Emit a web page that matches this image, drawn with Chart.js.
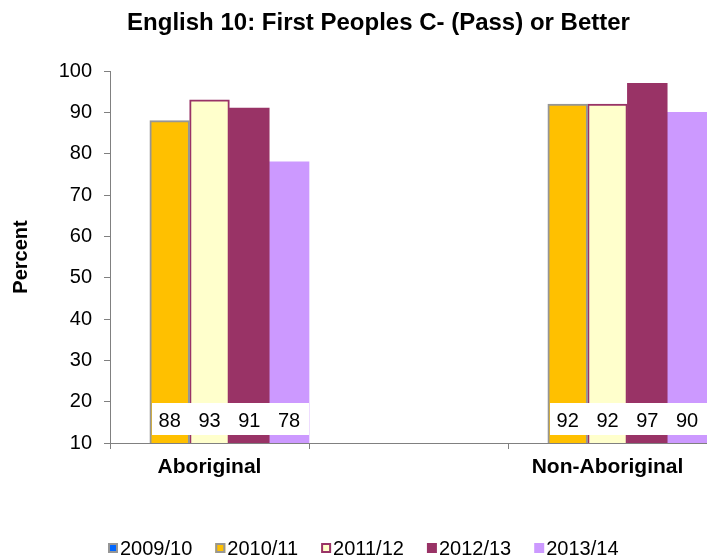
<!DOCTYPE html>
<html>
<head>
<meta charset="utf-8">
<title>English 10: First Peoples</title>
<script src="https://cdn.jsdelivr.net/npm/chart.js@4.4.1/dist/chart.umd.min.js"></script>
<style>
  html, body { margin: 0; padding: 0; background: #fff; }
  #wrap { width: 707px; height: 557px; }
</style>
</head>
<body>
<div id="wrap"><canvas id="chart"></canvas></div>
<script>
// groups on the x axis (middle slot is left empty as a spacer)
const categories = ['Aboriginal', '', 'Non-Aboriginal'];
const years = ['2009/10', '2010/11', '2011/12', '2012/13', '2013/14'];

// percent with C- or better, per school year
const pct0910 = [null, null, null];
const pct1011 = [88, null, 92];
const pct1112 = [93, null, 92];
const pct1213 = [91, null, 97];
const pct1314 = [78, null, 90];

const yMin = 10;
const yMax = 100;
const yStep = 10;

const titleText = 'English 10: First Peoples C- (Pass) or Better';

const fills = ['#0066FF', '#FFC000', '#FFFFCC', '#993366', '#CC99FF'];
const edges = ['#969696', '#969696', '#993366', '#993366', '#CC99FF'];
const edgeWidths = [2, 2, 2, 0, 0];

const FONT = '"Liberation Sans", Arial, Helvetica, sans-serif';
Chart.defaults.font.family = FONT;
Chart.defaults.color = '#000';

const series = [pct0910, pct1011, pct1112, pct1213, pct1314];

// heading, sits a little right of the canvas centre
const heading = {
  id: 'heading',
  afterDraw(chart) {
    const ctx = chart.ctx;
    ctx.save();
    ctx.font = 'bold 24px ' + FONT;
    ctx.fillStyle = '#000';
    ctx.textAlign = 'center';
    ctx.textBaseline = 'middle';
    ctx.fillText(titleText, chart.width / 2 + 25, 23);
    ctx.restore();
  }
};

// one white strip per group near the bar bases, with each bar's value on it
const valueBoxes = {
  id: 'valueBoxes',
  afterDatasetsDraw(chart) {
    const ctx = chart.ctx;
    const floor = chart.scales.y.getPixelForValue(yMin);
    const labels = [];
    const strips = categories.map(() => ({ left: Infinity, right: -Infinity }));
    chart.data.datasets.forEach((ds, i) => {
      chart.getDatasetMeta(i).data.forEach((bar, j) => {
        const v = ds.data[j];
        if (v == null) return;
        strips[j].left = Math.min(strips[j].left, bar.x - bar.width / 2);
        strips[j].right = Math.max(strips[j].right, bar.x + bar.width / 2);
        labels.push({ x: bar.x, text: String(v) });
      });
    });
    ctx.save();
    ctx.fillStyle = '#fff';
    strips.forEach((s) => {
      if (s.left === Infinity) return;
      const l = Math.round(s.left) + 2;
      ctx.fillRect(l, Math.round(floor) - 40, Math.round(s.right) - l, 32);
    });
    ctx.font = '20px ' + FONT;
    ctx.textAlign = 'center';
    ctx.textBaseline = 'middle';
    ctx.fillStyle = '#000';
    labels.forEach((lb) => ctx.fillText(lb.text, lb.x, floor - 22));
    ctx.restore();
  }
};

// legend row along the bottom
const bottomLegend = {
  id: 'bottomLegend',
  afterDraw(chart) {
    const ctx = chart.ctx;
    ctx.save();
    ctx.font = '20px ' + FONT;
    ctx.textBaseline = 'middle';
    ctx.textAlign = 'left';
    const y = 548;
    let x = chart.chartArea.left - 2;
    chart.data.datasets.forEach((ds) => {
      const box = 10;
      ctx.fillStyle = ds.backgroundColor;
      ctx.fillRect(x, y - box / 2, box, box);
      if (ds.borderWidth > 0) {
        ctx.strokeStyle = ds.borderColor;
        ctx.lineWidth = 2;
        ctx.strokeRect(x + 1, y - box / 2 + 1, box - 2, box - 2);
      }
      ctx.fillStyle = '#000';
      ctx.fillText(ds.label, x + box + 2, y + 1);
      x += box + 2 + ctx.measureText(ds.label).width + 23;
    });
    ctx.restore();
  }
};

new Chart(document.getElementById('chart'), {
  type: 'bar',
  data: {
    labels: categories,
    datasets: years.map((yr, i) => ({
      label: yr,
      data: series[i],
      backgroundColor: fills[i],
      borderColor: edges[i],
      borderWidth: edgeWidths[i],
      borderSkipped: false,
      categoryPercentage: 1.0,
      barPercentage: 1.0
    }))
  },
  options: {
    responsive: true,
    maintainAspectRatio: false,
    animation: false,
    layout: { padding: { left: 0, right: 0, top: 71, bottom: 0 } },
    plugins: {
      legend: { display: false },
      tooltip: { enabled: false },
      title: { display: false }
    },
    scales: {
      x: {
        grid: {
          offset: true,
          drawOnChartArea: false,
          drawTicks: true,
          tickLength: 6,
          tickColor: '#808080'
        },
        border: { color: '#808080', width: 1 },
        ticks: {
          font: { size: 21, weight: 'bold' },
          color: '#000',
          padding: 6,
          maxRotation: 0,
          autoSkip: false
        },
        afterFit(scale) { scale.height = 114; }
      },
      y: {
        min: yMin,
        max: yMax,
        grid: {
          drawOnChartArea: false,
          drawTicks: true,
          tickLength: 6,
          tickColor: '#808080'
        },
        border: { color: '#808080', width: 1 },
        ticks: {
          stepSize: yStep,
          font: { size: 20 },
          color: '#000',
          padding: 12
        },
        title: {
          display: true,
          text: 'Percent',
          font: { size: 20, weight: 'bold' },
          color: '#000',
          padding: { top: 9, bottom: 0 }
        },
        afterFit(scale) { scale.width = 110; }
      }
    }
  },
  plugins: [valueBoxes, heading, bottomLegend]
});
</script>
</body>
</html>
